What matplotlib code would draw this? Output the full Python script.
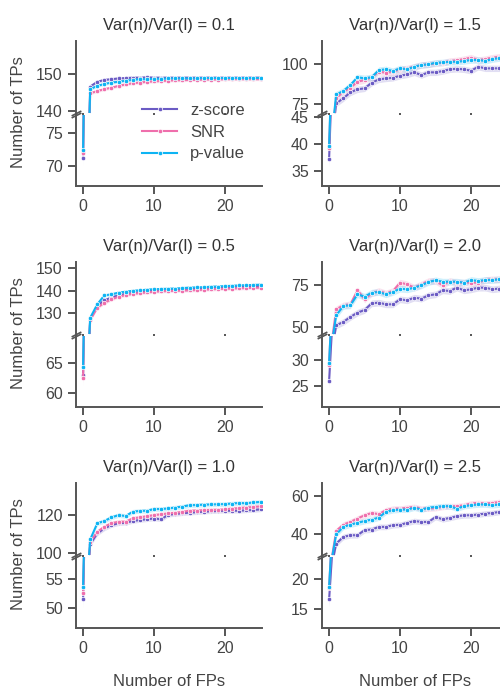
import numpy as np
import matplotlib
matplotlib.use("Agg")
import matplotlib.pyplot as plt
from matplotlib.lines import Line2D

plt.rcParams['font.family'] = ['Liberation Sans', 'DejaVu Sans']

W, H = 500, 691

fps = list(range(26))
methods = ["z-score", "SNR", "p-value"]
colors = ["#6b5bc4", "#ef6fac", "#0db4f3"]

titles = ["Var(n)/Var(l) = 0.1", "Var(n)/Var(l) = 0.5", "Var(n)/Var(l) = 1.0",
          "Var(n)/Var(l) = 1.5", "Var(n)/Var(l) = 2.0", "Var(n)/Var(l) = 2.5"]

# var ratio 0.1
z_01 = [71.2, 146.6, 147.9, 148.4, 148.6, 148.8, 148.9, 149.0, 149.0, 149.1, 149.0, 149.0, 149.0,
        149.0, 149.0, 149.0, 149.0, 149.0, 149.0, 149.0, 149.0, 149.0, 149.0, 149.0, 149.0, 149.0]
snr_01 = [71.9, 144.8, 145.4, 145.9, 146.3, 146.8, 147.2, 147.5, 147.7, 147.9, 148.0, 148.1, 148.2,
          148.3, 148.3, 148.4, 148.4, 148.5, 148.5, 148.5, 148.6, 148.6, 148.6, 148.6, 148.6, 148.6]
p_01 = [72.4, 145.9, 146.8, 147.3, 147.7, 147.9, 148.2, 148.4, 148.6, 148.6, 148.7, 148.7, 148.8,
        148.8, 148.8, 148.8, 148.8, 148.9, 148.9, 148.9, 148.9, 148.9, 148.9, 148.9, 148.9, 148.9]
# var ratio 0.5
z_05 = [63.0, 127.5, 133.2, 135.8, 137.0, 138.0, 138.6, 139.0, 139.4, 139.7, 140.0, 140.1, 140.3,
        140.4, 140.5, 140.7, 140.9, 141.0, 141.2, 141.4, 141.6, 141.7, 141.9, 142.0, 142.1, 142.2]
snr_05 = [62.5, 127.0, 132.5, 134.7, 136.2, 137.4, 138.1, 138.7, 139.0, 139.3, 139.6, 139.8, 139.9,
          140.0, 140.1, 140.2, 140.3, 140.5, 140.6, 140.8, 140.9, 141.0, 141.1, 141.2, 141.3, 141.4]
p_05 = [64.3, 128.0, 134.0, 138.0, 138.4, 139.2, 139.6, 140.0, 140.2, 140.5, 140.7, 140.8, 140.9,
        141.0, 141.2, 141.4, 141.5, 141.6, 141.8, 141.9, 142.1, 142.2, 142.4, 142.5, 142.6, 142.7]
# var ratio 1.0
z_10 = [51.5, 104.5, 110.2, 112.8, 114.6, 115.5, 115.8, 116.7, 117.2, 117.6, 118.0, 117.6, 120.0,
        120.4, 120.8, 121.1, 121.3, 121.6, 121.8, 122.0, 122.1, 122.1, 122.1, 122.3, 122.5, 122.8]
snr_10 = [52.5, 105.8, 111.0, 113.7, 115.5, 116.3, 116.3, 118.1, 118.6, 119.2, 119.8, 120.2, 120.7,
          121.0, 121.5, 122.1, 122.2, 122.4, 122.5, 122.6, 122.8, 123.2, 123.5, 123.8, 124.1, 124.4]
p_10 = [53.6, 107.0, 115.5, 116.7, 118.6, 119.8, 119.3, 121.6, 122.0, 122.1, 123.0, 123.0, 123.3,
        123.8, 124.3, 125.0, 125.1, 125.3, 125.4, 125.5, 125.6, 125.9, 126.2, 126.0, 126.5, 126.7]
# var ratio 1.5
z_15 = [37.2, 75.6, 78.8, 82.5, 84.4, 85.0, 88.5, 90.6, 91.2, 91.6, 92.9, 93.7, 95.0,
        93.3, 95.0, 95.0, 95.8, 96.9, 97.2, 96.9, 96.0, 98.5, 97.5, 97.5, 97.5, 97.5]
snr_15 = [39.3, 78.8, 83.0, 85.4, 89.1, 90.2, 91.9, 95.4, 94.8, 95.4, 96.9, 97.5, 98.5,
          99.6, 100.0, 100.6, 101.0, 102.1, 102.5, 103.3, 104.2, 102.7, 103.3, 104.2, 104.8, 104.8]
p_15 = [39.6, 81.2, 83.3, 87.1, 91.9, 91.3, 91.9, 96.4, 96.9, 95.8, 97.5, 96.9, 98.5,
        99.6, 100.0, 101.0, 101.2, 101.6, 101.6, 102.1, 102.7, 102.7, 102.1, 103.3, 103.9, 103.9]
# var ratio 2.0
z_20 = [26.0, 50.8, 52.8, 55.8, 58.4, 60.0, 64.0, 64.4, 63.4, 63.4, 66.4, 65.8, 67.4,
        66.8, 68.8, 69.4, 71.8, 71.4, 73.4, 71.8, 72.4, 73.4, 73.4, 72.4, 72.9, 72.9]
snr_20 = [29.0, 60.4, 62.8, 63.4, 71.8, 66.4, 70.0, 71.4, 70.0, 71.4, 76.4, 75.4, 73.4,
          75.4, 77.4, 77.4, 74.8, 77.4, 76.4, 76.4, 76.4, 76.4, 78.0, 78.4, 78.4, 78.0]
p_20 = [29.5, 56.8, 62.4, 62.8, 69.4, 68.0, 70.4, 70.8, 69.4, 70.8, 72.8, 72.4, 73.4,
        74.8, 76.8, 77.8, 77.0, 77.0, 77.0, 76.4, 78.0, 77.4, 78.0, 78.0, 78.4, 78.4]
# var ratio 2.5
z_25 = [16.6, 34.9, 38.4, 39.3, 39.3, 42.0, 42.3, 43.7, 43.7, 44.6, 44.8, 45.8, 46.8,
        46.3, 46.3, 48.9, 47.7, 48.4, 49.3, 49.8, 49.8, 50.2, 50.7, 51.0, 51.6, 51.9]
snr_25 = [18.5, 41.6, 44.9, 46.3, 48.1, 49.8, 51.0, 50.4, 52.5, 53.3, 53.3, 53.8, 54.2,
          53.3, 53.3, 53.6, 54.2, 54.6, 54.6, 55.1, 56.0, 56.3, 56.0, 56.3, 56.8, 56.8]
p_25 = [18.7, 39.8, 43.7, 44.9, 45.8, 46.8, 47.5, 48.6, 51.6, 52.5, 52.8, 52.8, 53.8,
        52.8, 53.8, 54.2, 54.6, 54.6, 53.3, 54.6, 55.1, 55.5, 55.5, 55.1, 55.5, 55.5]

panel_series = [(z_01, snr_01, p_01), (z_05, snr_05, p_05), (z_10, snr_10, p_10),
                (z_15, snr_15, p_15), (z_20, snr_20, p_20), (z_25, snr_25, p_25)]

# half width of the shaded band (upper part, and at FP = 0)
ci_top = [0.4, 0.7, 1.2, 2.0, 2.0, 1.5]
ci_zero = [1.2, 1.5, 1.5, 1.5, 1.3, 1.2]

# y limits and ticks of the two parts of each broken axis
ylim_top = [(139.46, 158.92), (120.8, 152.8), (98.8, 136.7), (69.6, 114.6), (45.6, 88.8), (28.9, 66.8)]
ylim_bot = [(66.97, 77.73), (57.6, 69.45), (46.6, 58.7), (32.2, 45.4), (21.0, 34.6), (11.8, 23.7)]
yticks_top = [[140, 150], [130, 140, 150], [100, 120], [75, 100], [50, 75], [40, 60]]
yticks_bot = [[70, 75], [60, 65], [50, 55], [35, 40, 45], [25, 30], [15, 20]]

spine_c = "#555555"
text_c = "#444444"

fig = plt.figure(figsize=(W / 100, H / 100), dpi=100)


def px_axes(x0, y0, w, h):
    return fig.add_axes([x0 / W, 1 - (y0 + h) / H, w / W, h / H])


def style(ax):
    for s in ["top", "right"]:
        ax.spines[s].set_visible(False)
    for s in ["left", "bottom"]:
        ax.spines[s].set_color(spine_c)
        ax.spines[s].set_linewidth(1.4)
    ax.tick_params(colors=spine_c, labelcolor=text_c, labelsize=11.5, width=1.4,
                   length=5.5, pad=4)


line_kw = dict(lw=1.5, marker='o', ms=3.2, mec='white', mew=0.5)

x = np.array(fps)
for i in range(6):
    col, row = i // 3, i % 3
    x0 = 76 + 246 * col
    y0 = 41 + 221 * row
    ax_t = px_axes(x0, y0, 186, 72)
    ax_b = px_axes(x0, y0 + 74, 186, 71)
    for ax in (ax_t, ax_b):
        style(ax)
        for vals, c, lab in zip(panel_series[i], colors, methods):
            v = np.array(vals)
            err = np.full(len(v), ci_top[i])
            err[0] = ci_zero[i]
            ax.fill_between(x, v - err, v + err, color=c, alpha=0.2, lw=0)
            ax.plot(x, v, color=c, label=lab, **line_kw)
        ax.set_xlim(-1, 25.2)
        ax.set_xticks([0, 10, 20])

    ax_t.set_ylim(*ylim_top[i])
    ax_t.set_yticks(yticks_top[i])
    ax_t.spines["bottom"].set_visible(False)
    ax_t.tick_params(axis='x', length=2.5, labelbottom=False)
    ax_t.set_title(titles[i], fontsize=12, color="#333333", pad=8)

    ax_b.set_ylim(*ylim_bot[i])
    ax_b.set_yticks(yticks_bot[i])

    # break marks on the left spine
    d = 0.5
    kw = dict(marker=[(-1, -d), (1, d)], markersize=7, linestyle="none",
              color=spine_c, mec=spine_c, mew=1.2, clip_on=False)
    ax_t.plot([0], [0], transform=ax_t.transAxes, **kw)
    ax_b.plot([0], [1], transform=ax_b.transAxes, **kw)

    if row == 2:
        fig.text((x0 + 93) / W, 1 - 682 / H, "Number of FPs", ha='center', va='center',
                 fontsize=12, color=text_c)
    if col == 0:
        fig.text(19 / W, 1 - (y0 + 71) / H, "Number of TPs", rotation=90,
                 ha='center', va='center', fontsize=12, color=text_c)

handles = [Line2D([], [], color=c, **line_kw) for c in colors]
fig.legend(handles, methods, loc='upper left', bbox_to_anchor=(142 / W, 1 - 103 / H),
           bbox_transform=fig.transFigure, frameon=False, fontsize=12,
           labelspacing=0.4, handlelength=2.1, handletextpad=0.8,
           borderpad=0, borderaxespad=0, labelcolor=text_c)

fig.savefig("out.png", dpi=100)
